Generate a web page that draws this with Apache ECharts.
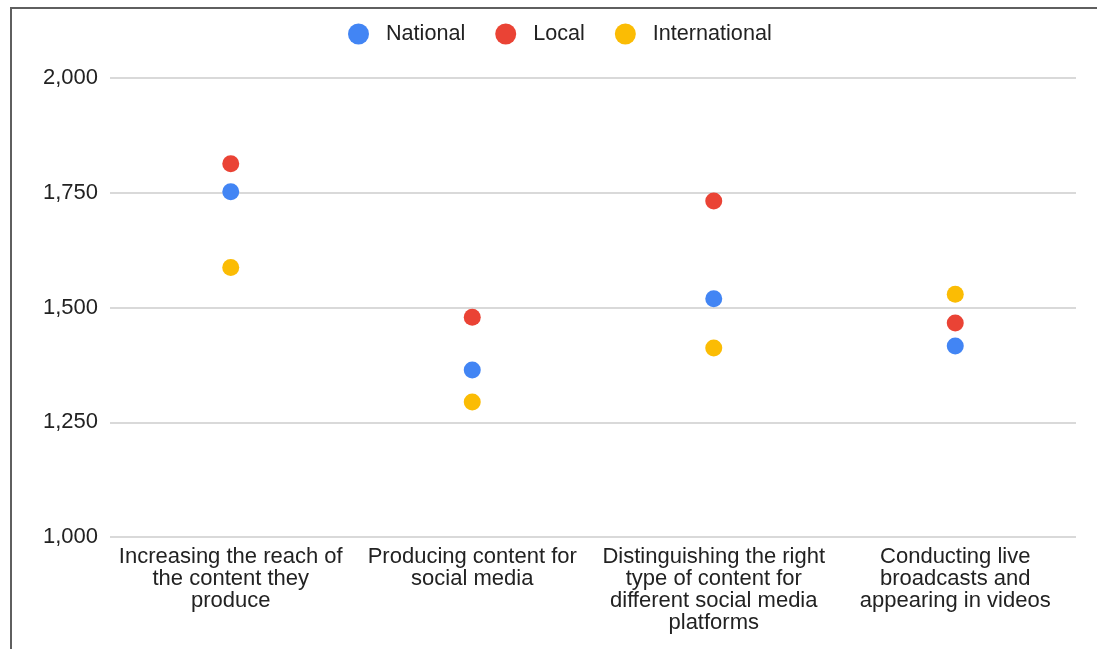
<!DOCTYPE html>
<html>
<head>
<meta charset="utf-8">
<script src="https://cdn.jsdelivr.net/npm/echarts@6/dist/echarts.min.js"></script>
<style>
html,body{margin:0;padding:0;background:#fff;}
#wrap{position:relative;width:1097px;height:649px;}
#chart{position:absolute;left:0;top:0;width:1097px;height:649px;}
#frame{position:absolute;left:10px;top:7px;width:1100px;height:700px;border-left:2px solid #5f5f5f;border-top:2px solid #5f5f5f;pointer-events:none;}
</style>
</head>
<body>
<div id="wrap"><div id="chart"></div><div id="frame"></div></div>
<script>
const categories = [
  "Increasing the reach of\nthe content they\nproduce",
  "Producing content for\nsocial media",
  "Distinguishing the right\ntype of content for\ndifferent social media\nplatforms",
  "Conducting live\nbroadcasts and\nappearing in videos"
];
const seriesNames = ["National", "Local", "International"];
const national = [1752, 1364, 1519, 1416];
const local = [1813, 1479, 1732, 1466];
const international = [1587, 1294, 1412, 1529];
const yTicks = [1000, 1250, 1500, 1750, 2000];
const colors = ["#4285F4", "#EA4335", "#FBBC04"];

const chart = echarts.init(document.getElementById('chart'));
const dataSets = [national, local, international];
chart.setOption({
  animation: false,
  color: colors,
  legend: {
    top: 18,
    left: 343,
    icon: 'circle',
    itemWidth: 21,
    itemHeight: 21,
    itemGap: 30,
    textStyle: { fontFamily: 'Liberation Sans, Arial', fontSize: 21.6, color: '#222', padding: [0, 0, 0, 12] },
    data: seriesNames
  },
  grid: { left: 110, right: 21, top: 78, bottom: 112, containLabel: false },
  xAxis: {
    type: 'category',
    data: categories,
    axisLine: { show: false },
    axisTick: { show: false },
    axisLabel: {
      interval: 0,
      margin: 9,
      fontFamily: 'Liberation Sans, Arial',
      fontSize: 22,
      lineHeight: 22,
      color: '#222',
      align: 'center'
    },
    splitLine: { show: false }
  },
  yAxis: {
    type: 'value',
    min: yTicks[0],
    max: yTicks[yTicks.length - 1],
    interval: 250,
    axisLine: { show: false },
    axisTick: { show: false },
    axisLabel: {
      margin: 12,
      fontFamily: 'Liberation Sans, Arial',
      fontSize: 22,
      color: '#222',
      formatter: v => v.toLocaleString('en-US')
    },
    splitLine: { lineStyle: { color: '#cccccc', width: 1.5 } }
  },
  series: seriesNames.map((n, i) => ({
    name: n,
    type: 'scatter',
    symbol: 'circle',
    symbolSize: 17,
    data: dataSets[i],
    itemStyle: { color: colors[i], opacity: 1 }
  }))
});
</script>
</body>
</html>
